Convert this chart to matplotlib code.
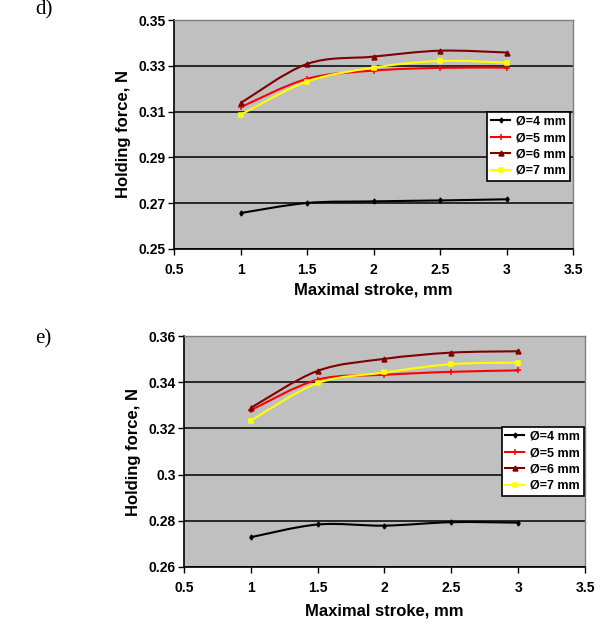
import matplotlib
matplotlib.use("Agg")
import matplotlib.pyplot as plt
import numpy as np
from matplotlib.path import Path
from matplotlib.patches import PathPatch
from matplotlib.lines import Line2D

plt.rcParams['font.family'] = ['Liberation Sans', 'DejaVu Sans']

stroke = [1.0, 1.5, 2.0, 2.5, 3.0]
series_labels = ["Ø=4 mm", "Ø=5 mm", "Ø=6 mm", "Ø=7 mm"]

d_d4 = [0.2657, 0.2701, 0.2708, 0.2712, 0.2717]
d_d5 = [0.3119, 0.3243, 0.3279, 0.3291, 0.3292]
d_d6 = [0.3137, 0.3308, 0.3340, 0.3366, 0.3358]
d_d7 = [0.3086, 0.3231, 0.3292, 0.3321, 0.3314]

e_d4 = [0.2729, 0.2784, 0.2779, 0.2794, 0.2792]
e_d5 = [0.3279, 0.3411, 0.3432, 0.3445, 0.3451]
e_d6 = [0.3289, 0.3449, 0.3501, 0.3528, 0.3534]
e_d7 = [0.3234, 0.3396, 0.3442, 0.3478, 0.3485]

d_yticks = [0.25, 0.27, 0.29, 0.31, 0.33, 0.35]
d_yticklabels = ["0.25", "0.27", "0.29", "0.31", "0.33", "0.35"]
e_yticks = [0.26, 0.28, 0.30, 0.32, 0.34, 0.36]
e_yticklabels = ["0.26", "0.28", "0.3", "0.32", "0.34", "0.36"]
xticks = [0.5, 1.0, 1.5, 2.0, 2.5, 3.0, 3.5]
xticklabels = ["0.5", "1", "1.5", "2", "2.5", "3", "3.5"]

colors = ["#000000", "#FF0000", "#800000", "#FFFF00"]
markers = ["d", "+", "^", "s"]
msizes = [2.5, 4, 3.5, 3.5]


def smooth_path(x, y):
    x = np.asarray(x, float)
    y = np.asarray(y, float)
    pts = np.column_stack([x, y])
    n = len(pts)
    verts = [pts[0]]
    codes = [Path.MOVETO]
    for i in range(n - 1):
        p0 = pts[i - 1] if i > 0 else pts[i]
        p1 = pts[i]
        p2 = pts[i + 1]
        p3 = pts[i + 2] if i + 2 < n else pts[i + 1]
        c1 = p1 + (p2 - p0) / 6.0
        c2 = p2 - (p3 - p1) / 6.0
        verts += [c1, c2, p2]
        codes += [Path.CURVE4] * 3
    return Path(verts, codes)


fig = plt.figure(figsize=(6.03, 6.25), dpi=100)


def panel(rect, series, yticks, yticklabels, legend_anchor, xlabelpad):
    ax = fig.add_axes(rect)
    ax.set_facecolor("#C0C0C0")
    ax.set_xlim(0.5, 3.5)
    ax.set_ylim(yticks[0], yticks[-1])
    ax.set_xticks(xticks)
    ax.set_xticklabels(xticklabels)
    ax.set_yticks(yticks)
    ax.set_yticklabels(yticklabels)
    ax.tick_params(axis='both', labelsize=10, direction='out', length=4,
                   width=1, pad=2)
    for lab in ax.get_xticklabels() + ax.get_yticklabels():
        lab.set_fontweight('bold')
    ax.tick_params(axis='x', pad=6)
    ax.yaxis.grid(True, color='black', lw=1.1)
    ax.set_axisbelow(True)
    for s in ['top', 'right']:
        ax.spines[s].set_color('#808080')
        ax.spines[s].set_linewidth(1)
    for s in ['left', 'bottom']:
        ax.spines[s].set_color('black')
        ax.spines[s].set_linewidth(1.2)
    handles = []
    for ys, c, m, ms, lab in zip(series, colors, markers, msizes, series_labels):
        patch = PathPatch(smooth_path(stroke, ys), fill=False, edgecolor=c,
                          lw=1.5, zorder=3)
        ax.add_patch(patch)
        ax.plot(stroke, ys, ls='none', marker=m, color=c, ms=ms,
                mew=1.1, zorder=4)
        handles.append(Line2D([0], [0], color=c, lw=1.5, marker=m, ms=ms,
                              mew=1.1, label=lab))
    ax.set_xlabel("Maximal stroke, mm", fontsize=12, fontweight='bold',
                  labelpad=xlabelpad)
    ax.set_ylabel("Holding force, N", fontsize=12, fontweight='bold',
                  labelpad=5)
    leg = ax.legend(handles=handles, loc='upper right',
                    bbox_to_anchor=legend_anchor,
                    bbox_transform=fig.transFigure,
                    prop={'size': 9, 'weight': 'bold'},
                    frameon=True, fancybox=False, framealpha=1,
                    edgecolor='black', handlelength=1.5, handletextpad=0.5,
                    labelspacing=0.35, borderpad=0.3, borderaxespad=0)
    leg.get_frame().set_linewidth(1.2)
    return ax


panel([0.2886, 0.6016, 0.6617, 0.3664], [d_d4, d_d5, d_d6, d_d7],
      d_yticks, d_yticklabels, (0.945, 0.8208), 4)
panel([0.3051, 0.0928, 0.665, 0.3696], [e_d4, e_d5, e_d6, e_d7],
      e_yticks, e_yticklabels, (0.9685, 0.3168), 6)

fig.text(0.058, 0.999, "d)", fontsize=15, family=['Liberation Serif', 'DejaVu Serif'],
         va='top', ha='left')
fig.text(0.058, 0.458, "e)", fontsize=15, family=['Liberation Serif', 'DejaVu Serif'],
         va='center', ha='left')

fig.savefig("out.png", dpi=100)
